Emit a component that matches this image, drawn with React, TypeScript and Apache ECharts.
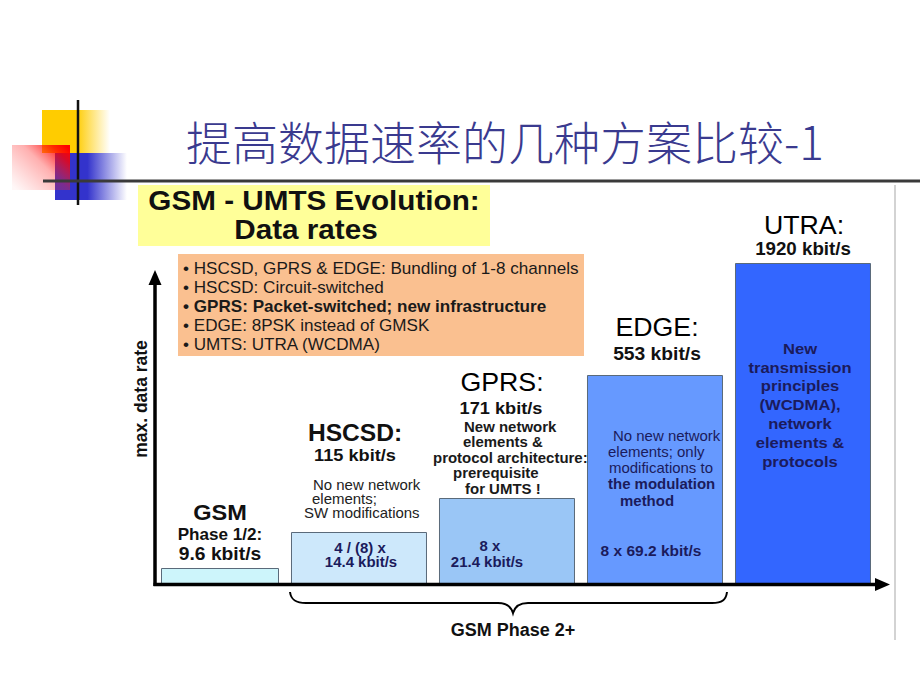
import React, { useEffect, useRef } from "react";
import * as echarts from "echarts";

// ---------- data ----------
const categories = ["GSM", "HSCSD", "GPRS", "EDGE", "UTRA"];
const headerTexts = ["GSM", "HSCSD:", "GPRS:", "EDGE:", "UTRA:"];
const dataRates = ["9.6 kbit/s", "115 kbit/s", "171 kbit/s", "553 kbit/s", "1920 kbit/s"];
// schematic bar heights as drawn in the slide (relative units, not to scale)
const barHeights = [16, 52, 86, 209, 321];
const barColors = ["#cdf5fb", "#cde8fb", "#9ac6f6", "#6699ff", "#3366ff"];

const bulletLines = [
  "HSCSD, GPRS & EDGE: Bundling of 1-8 channels",
  "HSCSD: Circuit-switched",
  "GPRS: Packet-switched; new infrastructure",
  "EDGE: 8PSK instead of GMSK",
  "UMTS: UTRA (WCDMA)",
];
const boldBullet = [false, false, true, false, false];

const gsmPhase = "Phase 1/2:";
const hscsdNotes = ["No new network", "elements;", "SW modifications"];
const gprsNotes = ["New network", "elements &", "protocol architecture:", "prerequisite", "for UMTS !"];
const edgeNotes = ["No new network", "elements; only", "modifications to", "the modulation", "method"];
const edgeNotesBold = [false, false, false, true, true];
const utraNotes = ["New", "transmission", "principles", "(WCDMA),", "network", "elements &", "protocols"];
const hscsdBundle = ["4 / (8) x", "14.4 kbit/s"];
const gprsBundle = ["8 x", "21.4 kbit/s"];
const edgeBundle = ["8 x 69.2 kbit/s"];

const slideTitle = "提高数据速率的几种方案比较-1";
const boxTitle = ["GSM - UMTS Evolution:", "Data rates"];
const yAxisName = "max. data rate";
const phase2Label = "GSM Phase 2+";

// ---------- helpers ----------
const FONT = '"Liberation Sans", Arial, Helvetica, sans-serif';
const NAVY = "#1b1b5c";

function T(
  x: number,
  y: number,
  text: string,
  size: number,
  opts: { weight?: string; color?: string; align?: string; sx?: number } = {}
) {
  return {
    type: "text",
    x,
    y,
    z: 30,
    scaleX: opts.sx ?? 1.07,
    style: {
      text,
      fill: opts.color ?? "#111",
      fontSize: size,
      fontWeight: opts.weight ?? "normal",
      fontFamily: FONT,
      textAlign: opts.align ?? "center",
      textVerticalAlign: "middle",
    },
  };
}

echarts.graphic.registerShape(
  "brace",
  echarts.graphic.extendPath(
    "M0,0 C1,8 6,11 16,11 L208,11 C216,11 221,14 223,21 C225,14 230,11 238,11 L422,11 C432,11 436,8 437,0",
    {}
  )
);

export default function App() {
  const ref = useRef<HTMLDivElement>(null);

  useEffect(() => {
    document.body.style.margin = "0";
    const chart = echarts.init(ref.current!, undefined, { renderer: "svg" });

    const graphics: any[] = [];

    // logo
    graphics.push(
      {
        type: "rect",
        shape: { x: 42, y: 110, width: 68, height: 43 },
        style: {
          fill: {
            type: "linear", x: 0, y: 0, x2: 1, y2: 0,
            colorStops: [
              { offset: 0, color: "#ffcc00" },
              { offset: 0.5, color: "#ffcc00" },
              { offset: 1, color: "rgba(255,204,0,0)" },
            ],
          },
        },
      },
      {
        type: "rect",
        shape: { x: 55, y: 153, width: 72, height: 47 },
        style: {
          fill: {
            type: "linear", x: 0, y: 0, x2: 1, y2: 0,
            colorStops: [
              { offset: 0, color: "#3333cc" },
              { offset: 0.45, color: "#3333cc" },
              { offset: 1, color: "rgba(51,51,204,0)" },
            ],
          },
        },
      },
      {
        type: "rect",
        shape: { x: 12, y: 145, width: 58, height: 45 },
        style: {
          fill: {
            type: "linear", x: 0, y: 0.9, x2: 1, y2: 0.1,
            colorStops: [
              { offset: 0, color: "rgba(255,60,60,0.04)" },
              { offset: 0.55, color: "rgba(255,30,30,0.35)" },
              { offset: 0.85, color: "rgba(255,0,0,0.8)" },
              { offset: 1, color: "#ff0000" },
            ],
          },
        },
      },
      { type: "line", shape: { x1: 78, y1: 100, x2: 78, y2: 205 }, style: { stroke: "#111", lineWidth: 2.5 } },
      { type: "line", shape: { x1: 43, y1: 181, x2: 920, y2: 181 }, style: { stroke: "#3a3a3a", lineWidth: 3 } }
    );

    // slide title
    graphics.push({
      type: "text",
      x: 505,
      y: 140,
      style: {
        text: slideTitle,
        fill: "#3a3a8f",
        fontSize: 46,
        fontWeight: 300,
        fontFamily: '"Noto Sans CJK SC", sans-serif',
        textAlign: "center",
        textVerticalAlign: "middle",
      },
    });

    // right border of embedded picture
    graphics.push({ type: "line", shape: { x1: 895, y1: 185, x2: 895, y2: 640 }, style: { stroke: "#c4c4c4", lineWidth: 1.5 } });

    // yellow title box
    graphics.push({ type: "rect", shape: { x: 138, y: 185, width: 352, height: 61 }, style: { fill: "#ffff99" } });
    graphics.push(T(314, 200, boxTitle[0], 28, { weight: "bold", sx: 1.06 }));
    graphics.push(T(306, 229, boxTitle[1], 28, { weight: "bold", sx: 1.06 }));

    // orange bullet box
    graphics.push({ type: "rect", shape: { x: 178, y: 254, width: 406, height: 102 }, style: { fill: "#fac090" } });
    bulletLines.forEach((line, i) => {
      graphics.push(
        T(183, 269 + i * 19, "\u2022 " + line, 16, {
          align: "left",
          weight: boldBullet[i] ? "bold" : "normal",
          color: "#1a1a1a",
        })
      );
    });

    // axes
    graphics.push(
      { type: "line", z: 25, shape: { x1: 155, y1: 586, x2: 155, y2: 280 }, style: { stroke: "#000", lineWidth: 3.5 } },
      { type: "polygon", z: 25, shape: { points: [[155, 270], [148.5, 285], [161.5, 285]] }, style: { fill: "#000" } },
      { type: "line", z: 25, shape: { x1: 153.5, y1: 584.5, x2: 878, y2: 584.5 }, style: { stroke: "#000", lineWidth: 3.5 } },
      { type: "polygon", z: 25, shape: { points: [[890, 584.5], [875, 578], [875, 591]] }, style: { fill: "#000" } }
    );

    // y axis name
    graphics.push({
      type: "text",
      x: 141,
      y: 399,
      rotation: Math.PI / 2,
      scaleY: 1.07,
      style: {
        text: yAxisName,
        fill: "#111",
        fontSize: 17.5,
        fontWeight: "bold",
        fontFamily: FONT,
        textAlign: "center",
        textVerticalAlign: "middle",
      },
    });

    // GSM
    graphics.push(T(220, 512, headerTexts[0], 22, { weight: "bold" }));
    graphics.push(T(220, 535, gsmPhase, 16, { weight: "bold" }));
    graphics.push(T(220, 554, dataRates[0], 18, { weight: "bold" }));

    // HSCSD
    graphics.push(T(355, 433, headerTexts[1], 23, { weight: "bold" }));
    graphics.push(T(355, 455, dataRates[1], 17, { weight: "bold" }));
    [313, 312, 304].forEach((x, i) => graphics.push(T(x, 485 + i * 14, hscsdNotes[i], 14, { align: "left", color: "#222" })));
    graphics.push(T(360, 548, hscsdBundle[0], 14, { weight: "bold", color: NAVY }));
    graphics.push(T(361, 562, hscsdBundle[1], 14, { weight: "bold", color: NAVY }));

    // GPRS
    graphics.push(T(502, 382, headerTexts[2], 25, { color: "#000" }));
    graphics.push(T(501, 408, dataRates[2], 17, { weight: "bold" }));
    [464, 463, 433, 453, 465].forEach((x, i) =>
      graphics.push(T(x, 427 + i * 15.5, gprsNotes[i], 14, { align: "left", weight: "bold", color: "#1a1a1a" }))
    );
    graphics.push(T(490, 546, gprsBundle[0], 14, { weight: "bold", color: NAVY }));
    graphics.push(T(487, 562, gprsBundle[1], 14, { weight: "bold", color: NAVY }));

    // EDGE
    graphics.push(T(657, 327, headerTexts[3], 25, { color: "#000" }));
    graphics.push(T(657, 354, dataRates[3], 18, { weight: "bold" }));
    [613, 608, 609, 608, 620].forEach((x, i) =>
      graphics.push(
        T(x, 436 + i * 16.2, edgeNotes[i], 14, {
          align: "left",
          weight: edgeNotesBold[i] ? "bold" : "normal",
          color: NAVY,
        })
      )
    );
    graphics.push(T(651, 551, edgeBundle[0], 14.5, { weight: "bold", color: NAVY }));

    // UTRA
    graphics.push(T(804, 225, headerTexts[4], 25, { color: "#000" }));
    graphics.push(T(803, 249, dataRates[4], 17.5, { weight: "bold" }));
    utraNotes.forEach((line, i) => graphics.push(T(800, 348 + i * 18.8, line, 15.5, { weight: "bold", color: NAVY })));

    // brace + phase 2+
    graphics.push({
      type: "brace",
      x: 290,
      y: 592,
      z: 25,
      style: { stroke: "#000", lineWidth: 2, fill: "none" },
    });
    graphics.push(T(513, 630, phase2Label, 18, { weight: "bold", sx: 1.0 }));

    const phase2Data = barHeights.map((v, i) =>
      i === 0 ? null : { value: v, itemStyle: { color: barColors[i] } }
    );
    const gsmData = barHeights.map((v, i) =>
      i === 0 ? { value: v, itemStyle: { color: barColors[i] } } : null
    );

    chart.setOption({
      animation: false,
      backgroundColor: "#ffffff",
      grid: { left: 137, right: 43, top: 254, bottom: 106, containLabel: false },
      xAxis: {
        type: "category",
        data: categories,
        axisLine: { show: false },
        axisTick: { show: false },
        axisLabel: { show: false },
        splitLine: { show: false },
      },
      yAxis: {
        type: "value",
        min: 0,
        max: 330,
        axisLine: { show: false },
        axisTick: { show: false },
        axisLabel: { show: false },
        splitLine: { show: false },
      },
      series: [
        {
          name: "Phase 2+ / UMTS",
          type: "bar",
          data: phase2Data,
          barWidth: 136,
          barGap: "-86.76%",
          itemStyle: { borderColor: "#5a6a7a", borderWidth: 1 },
        },
        {
          name: "GSM",
          type: "bar",
          data: gsmData,
          barWidth: 118,
          barGap: "-86.76%",
          itemStyle: { borderColor: "#5a6a7a", borderWidth: 1 },
        },
      ],
      graphic: { elements: graphics },
    });

    return () => chart.dispose();
  }, []);

  return <div ref={ref} style={{ width: 920, height: 690 }} />;
}
